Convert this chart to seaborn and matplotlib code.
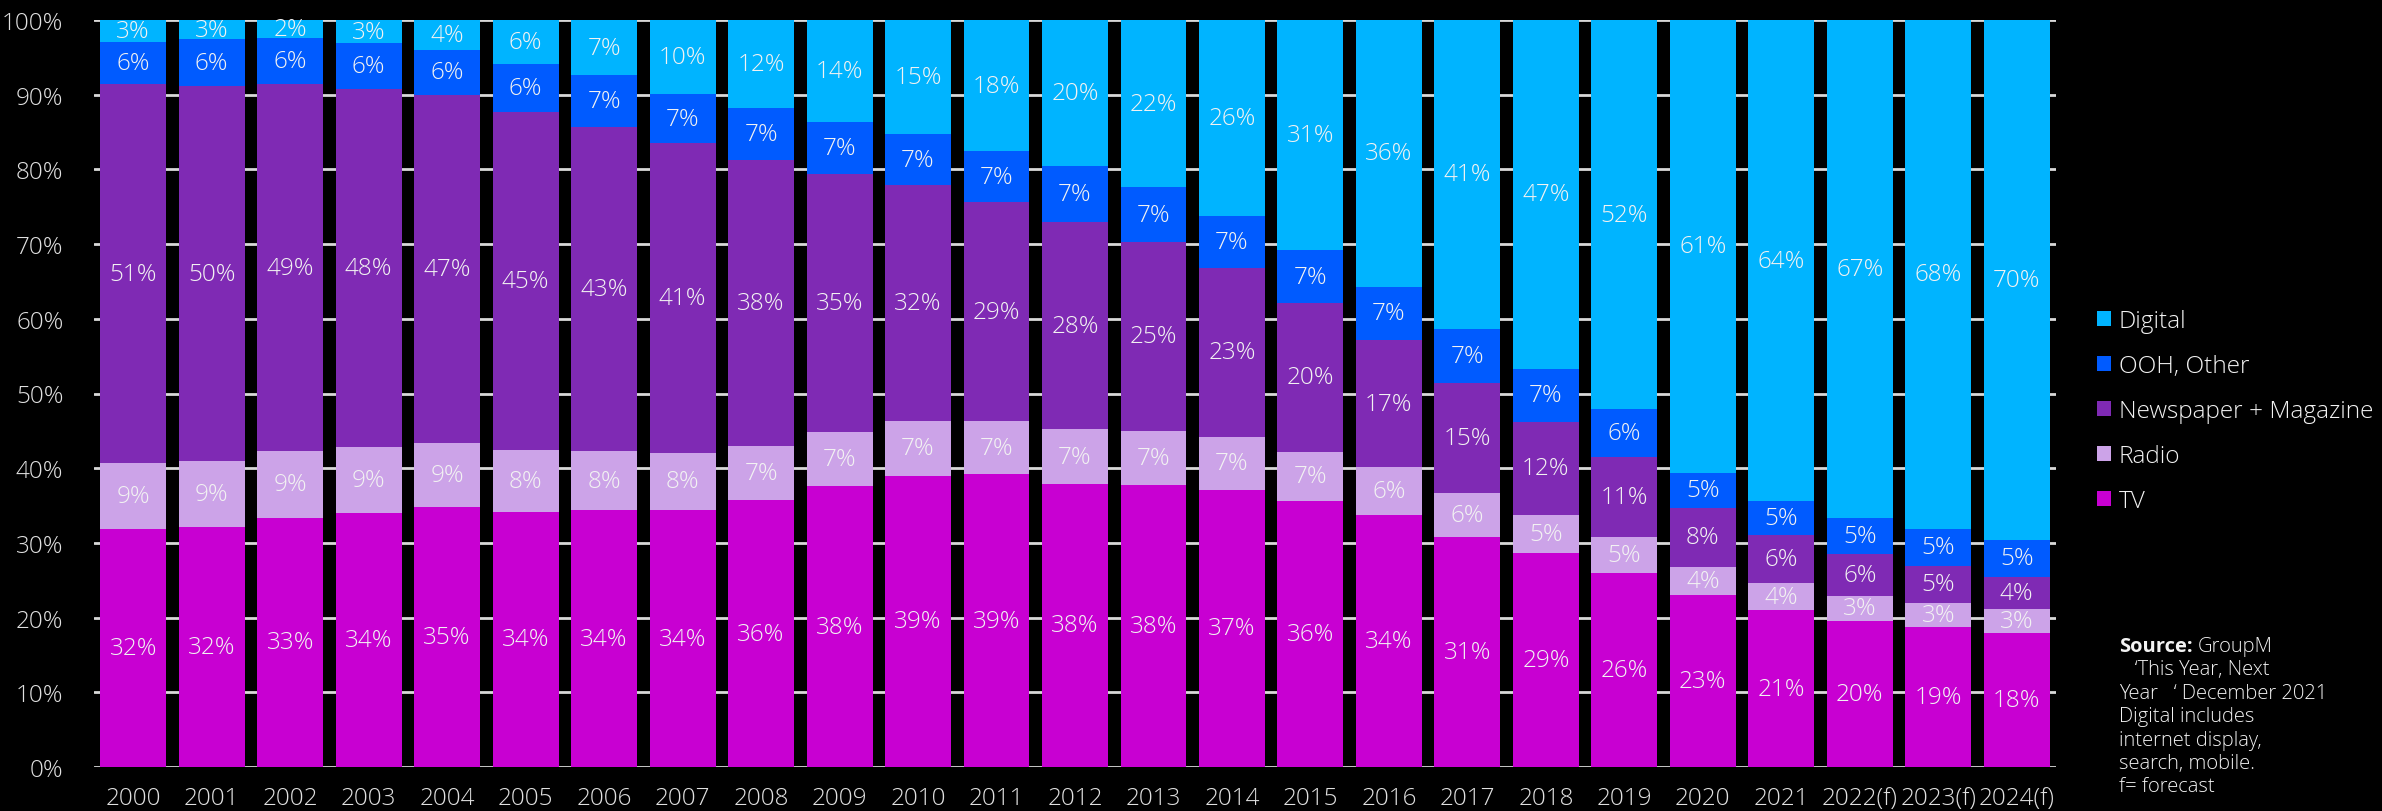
import numpy as np
import pandas as pd
import seaborn as sns
import matplotlib.pyplot as plt
from matplotlib.patches import Patch

years = ["2000", "2001", "2002", "2003", "2004", "2005", "2006", "2007", "2008",
         "2009", "2010", "2011", "2012", "2013", "2014", "2015", "2016", "2017",
         "2018", "2019", "2020", "2021", "2022(f)", "2023(f)", "2024(f)"]
tv = [31.8, 32.1, 33.4, 34.0, 34.8, 34.2, 34.4, 34.4, 35.7, 37.6, 39.0, 39.2, 37.9,
      37.7, 37.1, 35.6, 33.8, 30.8, 28.6, 26.0, 23.0, 21.0, 19.6, 18.7, 17.9]
radio = [8.9, 8.8, 8.9, 8.9, 8.6, 8.2, 7.9, 7.7, 7.3, 7.2, 7.3, 7.1, 7.3,
         7.3, 7.1, 6.6, 6.3, 5.9, 5.2, 4.8, 3.8, 3.6, 3.3, 3.3, 3.2]
news = [50.7, 50.3, 49.1, 47.8, 46.6, 45.3, 43.4, 41.4, 38.3, 34.6, 31.6, 29.3, 27.8,
        25.3, 22.6, 19.9, 17.1, 14.7, 12.4, 10.7, 7.9, 6.4, 5.6, 4.9, 4.4]
ooh = [5.7, 6.2, 6.2, 6.2, 6.0, 6.4, 6.9, 6.6, 6.9, 6.9, 6.8, 6.8, 7.4,
       7.3, 7.0, 7.1, 7.1, 7.3, 7.1, 6.4, 4.7, 4.6, 4.9, 5.0, 4.9]
digital = [2.9, 2.6, 2.4, 3.1, 4.0, 5.9, 7.4, 9.9, 11.8, 13.7, 15.3, 17.6, 19.6,
           22.4, 26.2, 30.8, 35.7, 41.3, 46.7, 52.1, 60.6, 64.4, 66.6, 68.1, 69.6]

series_names = ["TV", "Radio", "Newspaper + Magazine", "OOH, Other", "Digital"]
series_colors = ["#C800D2", "#CCA3E8", "#7F2AB4", "#005BFF", "#00B4FF"]
series_vals = [tv, radio, news, ooh, digital]

sns.set_theme(style="dark")
plt.rcParams["font.family"] = ["Open Sans", "DejaVu Sans"]

W, H = 2382, 812
fig = plt.figure(figsize=(W / 100, H / 100), dpi=100, facecolor="black")
left_px, right_px, top_px, bot_px = 94, 2056, 21, 768
ax = fig.add_axes([left_px / W, 1 - bot_px / H, (right_px - left_px) / W, (bot_px - top_px) / H])
ax.set_facecolor("black")

txt_color = "#f2f2f2"
tick_color = "#e0e0e0"

cum = np.cumsum(np.array(series_vals), axis=0)
for k in reversed(range(len(series_names))):
    df = pd.DataFrame({"year": years, "top": cum[k]})
    sns.barplot(data=df, x="year", y="top", order=years, color=series_colors[k],
                width=0.84, saturation=1, errorbar=None, ax=ax,
                edgecolor="none", linewidth=0, zorder=2)

for k, vals in enumerate(series_vals):
    for i, v in enumerate(vals):
        y = cum[k][i] - v / 2
        ax.text(i, y, f"{v:.0f}%", ha="center", va="center", color=txt_color,
                fontsize=17.5, fontweight="light", zorder=5)

ax.set_ylim(0, 100)
ax.set_xlim(-0.5, len(years) - 0.5)
ax.set_yticks(np.arange(0, 101, 10))
ax.set_yticklabels([f"{t}%" for t in range(0, 101, 10)])
ax.set_xlabel("")
ax.set_ylabel("")
ax.tick_params(axis="both", length=0, colors=tick_color, labelsize=17.5)
ax.tick_params(axis="y", pad=22)
ax.tick_params(axis="x", pad=14)
for lab in ax.get_xticklabels() + ax.get_yticklabels():
    lab.set_fontweight("light")
ax.set_axisbelow(True)
ax.yaxis.grid(True, color="#d9d9d9", linewidth=2)
ax.xaxis.grid(False)
for s in ax.spines.values():
    s.set_visible(False)

handles = [Patch(facecolor=series_colors[k], edgecolor="none", label=series_names[k])
           for k in reversed(range(len(series_names)))]
leg = fig.legend(handles=handles, loc="upper left",
                 bbox_to_anchor=(2097 / W, 1 - 310 / H), frameon=False,
                 fontsize=17.6, handlelength=0.58, handleheight=0.58,
                 handletextpad=0.3, labelspacing=0.86, borderpad=0, borderaxespad=0)
for t in leg.get_texts():
    t.set_color(txt_color)
    t.set_fontweight("light")

# Source note
x0 = 2119 / W
y_first = 647
fig.canvas.draw()
src = fig.text(x0, 1 - y_first / H, "Source:", color=txt_color, fontsize=14.5,
               fontweight="bold", va="center", ha="left")
fig.canvas.draw()
bb = src.get_window_extent(renderer=fig.canvas.get_renderer())
fig.text(bb.x1 / W + 0.002, 1 - y_first / H, "GroupM", color=txt_color, fontsize=14.5,
         fontweight="light", va="center", ha="left")
note_lines = ["   \u2018This Year, Next", "Year   \u2018 December 2021", "Digital includes",
              "internet display,", "search, mobile.", "f= forecast"]
for j, line in enumerate(note_lines):
    fig.text(x0, 1 - (y_first + 23.4 * (j + 1)) / H, line, color=txt_color, fontsize=14.5,
             fontweight="light", va="center", ha="left")

fig.savefig("out.png", dpi=100, facecolor="black")
